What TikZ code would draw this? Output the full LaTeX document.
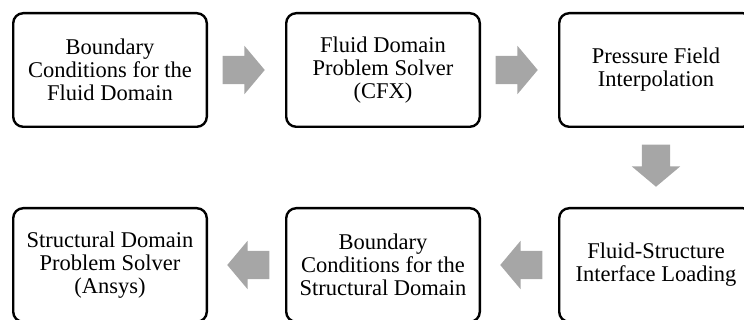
\documentclass[tikz,border=0pt]{standalone}
\usepackage{fontspec}
\setmainfont{Liberation Serif}
\usetikzlibrary{positioning,shapes.arrows,calc}

\tikzset{
	stage/.style = {draw, line width = 2.4pt, rounded corners = 10pt, fill = white,
		minimum width = 193.6pt, minimum height = 113.6pt, align = center,
		font = \fontsize{22.5}{23}\selectfont},
	blockarrow/.style = {single arrow, fill = gray!70, draw = none, anchor = tip,
		inner xsep = 0pt, inner ysep = 14pt, minimum height = 42pt,
		single arrow head extend = 10pt, single arrow tip angle = 100}
}

\begin{document}
\begin{tikzpicture}
	%	canvas
	\useasboundingbox (0, 0) rectangle (744pt, -320pt);
	
	%	top row
	\node[stage] (bcfluid) at (110pt, -70pt) {Boundary\\Conditions for the\\Fluid Domain};
	\node[stage, right = 77pt of bcfluid] (cfx) {Fluid Domain\\Problem Solver\\(CFX)};
	\node[stage, right = 77pt of cfx] (interp) {Pressure Field\\Interpolation};
	
	%	bottom row
	\node[stage, below = 79pt of interp] (fsi) {Fluid-Structure\\Interface Loading};
	\node[stage, left = 77pt of fsi] (bcstruct) {Boundary\\Conditions for the\\Structural Domain};
	\node[stage, left = 77pt of bcstruct] (ansys) {Structural Domain\\Problem Solver\\(Ansys)};
	
	%	arrows, tip 20pt short of the next box
	\node[blockarrow] (a1) at ($(cfx.west) + (-20pt, 0)$) {};
	\node[blockarrow] (a2) at ($(interp.west) + (-20pt, 0)$) {};
	\node[blockarrow, rotate = -90] (a3) at ($(fsi.north) + (0, 20pt)$) {};
	\node[blockarrow, rotate = 180] (a4) at ($(bcstruct.east) + (19pt, 0)$) {};
	\node[blockarrow, rotate = 180] (a5) at ($(ansys.east) + (19pt, 0)$) {};
\end{tikzpicture}
\end{document}
